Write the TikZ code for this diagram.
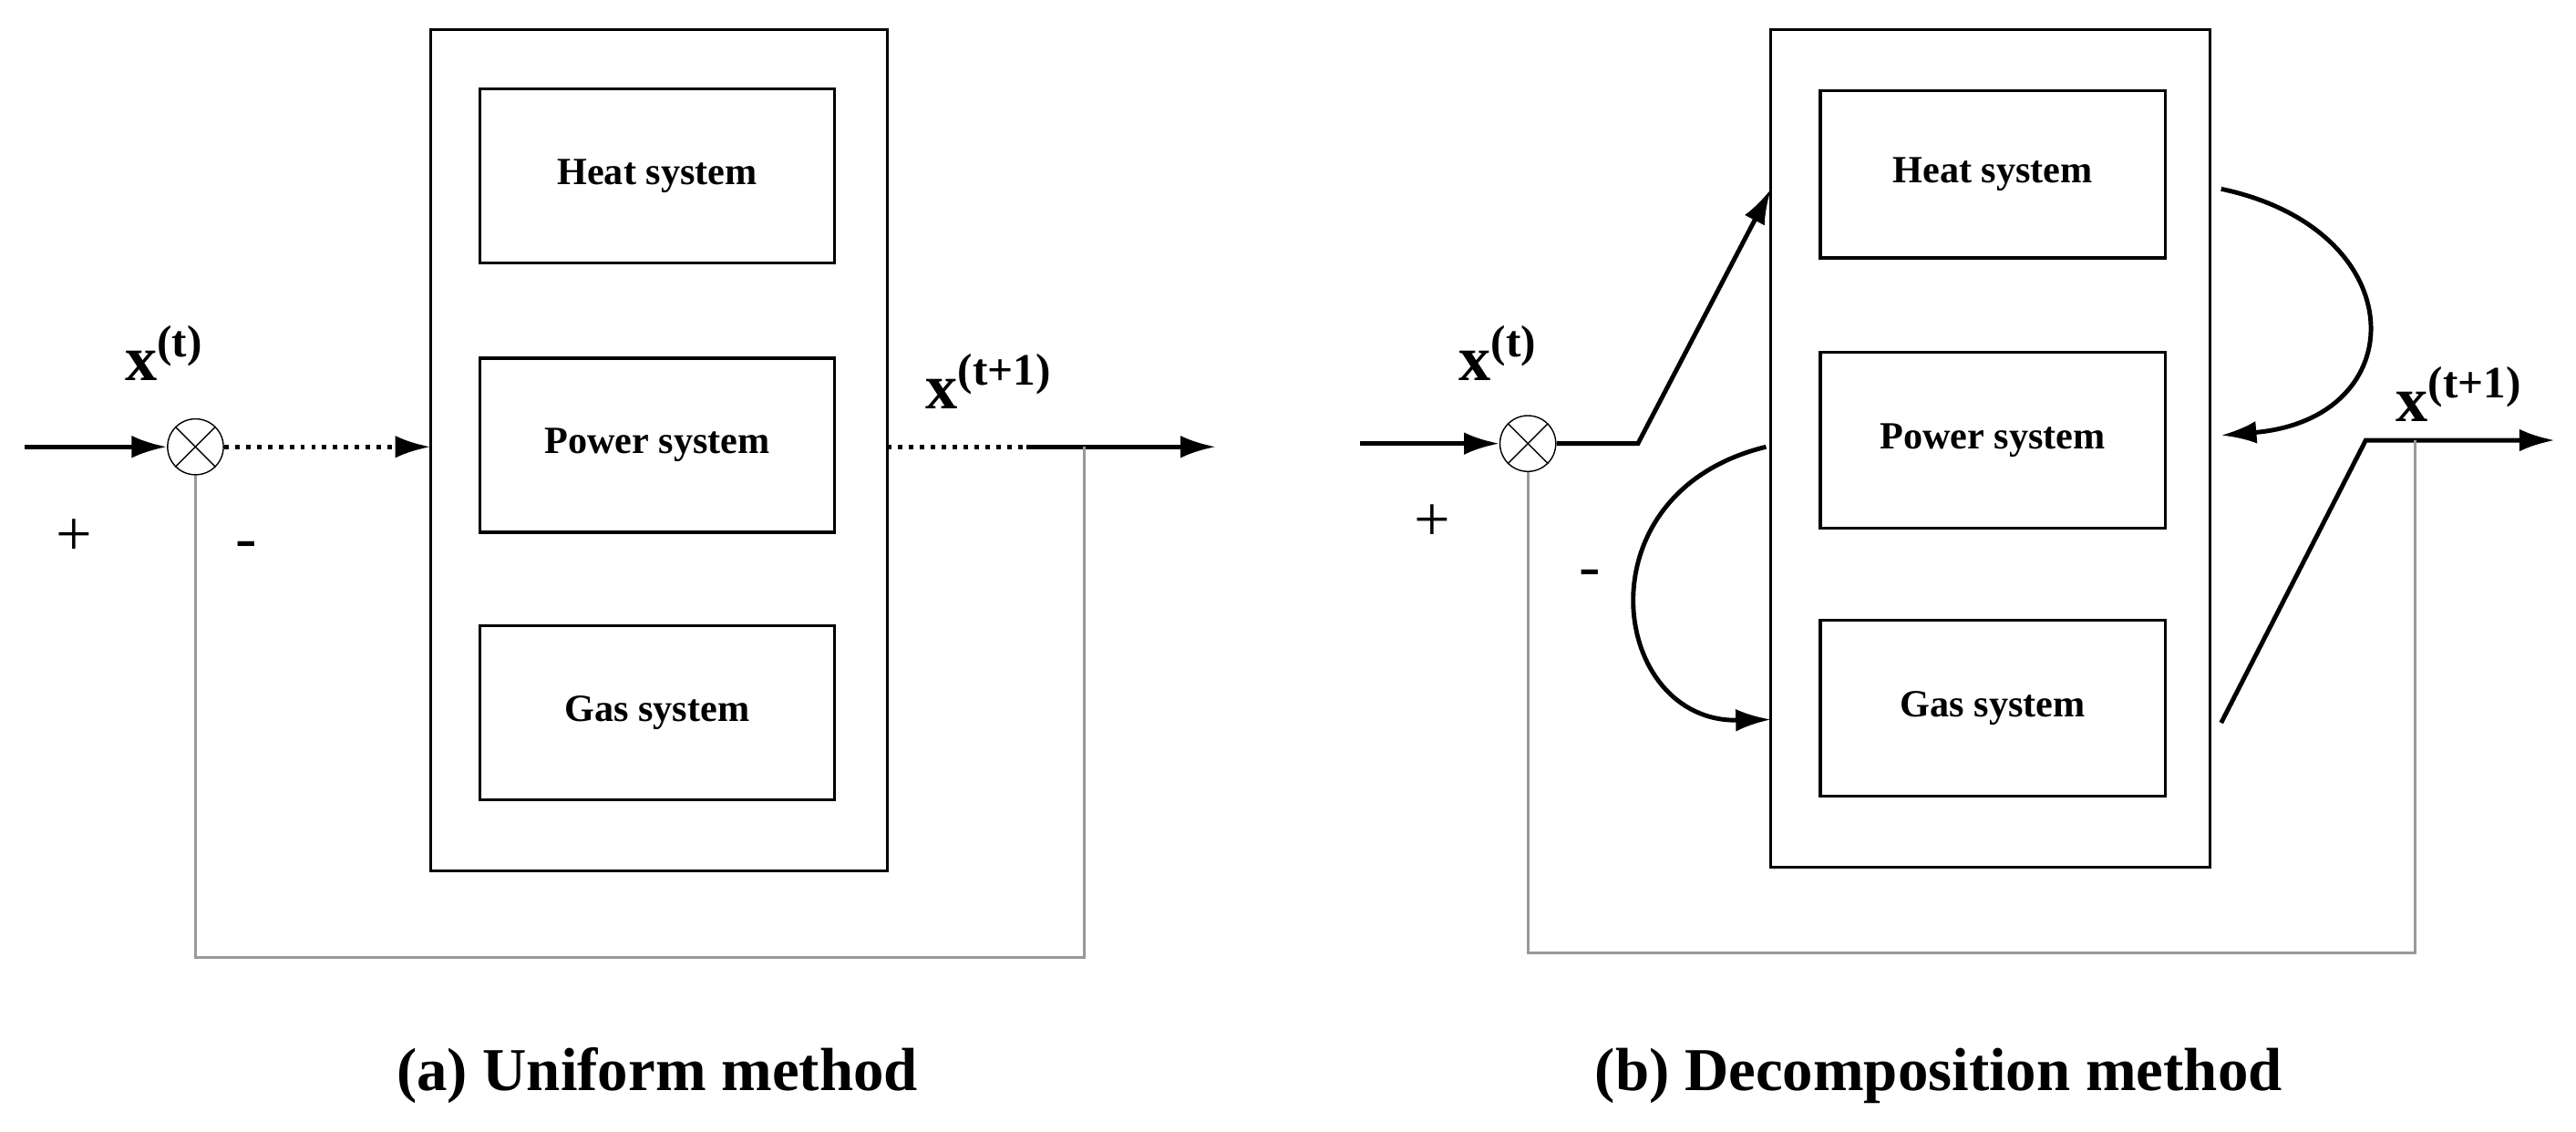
\documentclass[tikz,border=0pt]{standalone}
\usepackage{fontspec}
\setmainfont{Liberation Serif}
\usetikzlibrary{positioning,arrows.meta,calc}

\begin{document}
\begin{tikzpicture}[
  x=0.018cm, y=-0.018cm,
  frame/.style={draw, line width=0.9pt},
  sysbox/.style={draw, line width=0.9pt, minimum width=216*0.018cm, font=\bfseries\fontsize{12}{14}\selectfont},
  summer/.style={circle, draw, minimum size=34*0.018cm, inner sep=0pt},
  lbl/.style={font=\bfseries\fontsize{20}{22}\selectfont},
  sign/.style={font=\fontsize{20}{22}\selectfont},
  caption/.style={font=\bfseries\fontsize{19}{22}\selectfont},
  flow/.style={line width=1.4pt},
  fb/.style={draw=gray!80, line width=0.9pt},
  >={Latex[length=11pt,width=7pt]}
]
  \useasboundingbox (0,0) rectangle (1568,689);

  % (a) Uniform method
  \draw[frame] (262,18) rectangle (540,530);
  \node[sysbox, minimum height=106*0.018cm] (ha) at (400,107) {Heat system};
  \node[sysbox, minimum height=106*0.018cm] (pa) at (400,271) {Power system};
  \node[sysbox, minimum height=106*0.018cm] (ga) at (400,434) {Gas system};
  \node[summer] (sa) at (119,272) {};
  \draw (sa.north west) -- (sa.south east) (sa.north east) -- (sa.south west);
  \coordinate (ina) at (15,272);
  \coordinate (ea) at (262,272);
  \coordinate (oa) at (540,272);
  \coordinate (ma) at (625,272);
  \coordinate (ta) at (740,272);
  \coordinate (fa) at (660,272);
  \draw[->, flow] (ina) -- (sa);
  \draw[->, flow, dotted] (sa) -- (ea);
  \draw[flow, dotted] (oa) -- (ma);
  \draw[->, flow] (ma) -- (ta);
  \draw[fb] (fa) -- (660,583) -| (sa.south);
  \node[lbl] (xa) at (100,215) {x\textsuperscript{(t)}};
  \node[lbl] (ya) at (602,232) {x\textsuperscript{(t+1)}};
  \node[sign] (pla) at (45,327) {+};
  \node[sign] (mia) at (150,335) {-};
  \node[caption] (capa) at (400,655) {(a) Uniform method};

  % (b) Decomposition method
  \draw[frame] (1078,18) rectangle (1345,528);
  \node[sysbox, minimum width=210*0.018cm, minimum height=102*0.018cm] (hb) at (1213,106) {Heat system};
  \node[sysbox, minimum width=210*0.018cm, minimum height=107*0.018cm] (pb) at (1213,268) {Power system};
  \node[sysbox, minimum width=210*0.018cm, minimum height=107*0.018cm] (gb) at (1213,431) {Gas system};
  \node[summer] (sb) at (930,270) {};
  \draw (sb.north west) -- (sb.south east) (sb.north east) -- (sb.south west);
  \coordinate (inb) at (828,270);
  \coordinate (kb) at (997,270);
  \coordinate (eb) at (1078,115);
  \coordinate (h1) at (1352,115);
  \coordinate (p1) at (1352,265);
  \coordinate (p2) at (1075,272);
  \coordinate (g1) at (1078,438);
  \coordinate (g2) at (1352,440);
  \coordinate (kb2) at (1440,268);
  \coordinate (tb) at (1555,268);
  \coordinate (fbk) at (1470,268);
  \draw[->, flow] (inb) -- (sb);
  \draw[->, flow] (sb) -- (kb) -- (eb);
  \draw[->, flow] (h1) .. controls (1470,140) and (1470,255) .. (p1);
  \draw[->, flow] (p2) .. controls (960,300) and (980,440) .. (g1);
  \draw[->, flow] (g2) -- (kb2) -- (tb);
  \draw[fb] (fbk) -- (1470,580) -| (sb.south);
  \node[lbl] (xb) at (912,215) {x\textsuperscript{(t)}};
  \node[lbl] (yb) at (1497,240) {x\textsuperscript{(t+1)}};
  \node[sign] (plb) at (872,318) {+};
  \node[sign] (mib) at (968,352) {-};
  \node[caption] (capb) at (1180,655) {(b) Decomposition method};
\end{tikzpicture}
\end{document}
